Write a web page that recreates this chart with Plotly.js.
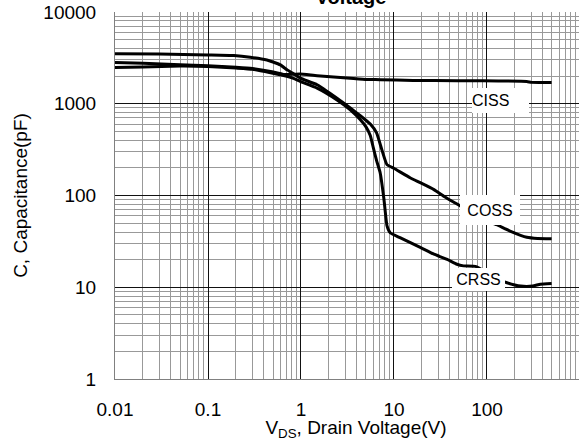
<!DOCTYPE html>
<html><head><meta charset="utf-8">
<script src="https://cdn.plot.ly/plotly-3.0.1.min.js"></script>
<style>html,body{margin:0;padding:0;overflow:hidden;background:#fff}#chart{width:597px;height:441px}</style>
</head><body><div id="chart"></div>
<script>
// Drain voltage (V) and capacitance (pF)
const cissV = [0.01, 0.02, 0.05, 0.1, 0.2, 0.3, 0.47, 0.65, 0.83, 0.98, 1.49, 2.44, 3.39, 5.1, 7.1, 16, 27, 85, 268, 300, 495];
const cissC = [2810, 2760, 2660, 2600, 2500, 2420, 2250, 2090, 2100, 2110, 2020, 1950, 1900, 1840, 1830, 1790, 1790, 1780, 1750, 1710, 1705];

const cossV = [0.01, 0.03, 0.1, 0.19, 0.285, 0.43, 0.5, 0.6, 0.71, 0.83, 0.98, 1.49, 2.44, 3.39, 4.35, 5.56, 6.5, 7.4, 8.4, 9.95, 14.9, 19.4, 26.9, 35, 43.6, 51.6, 70, 100, 127, 177, 268, 350, 495];
const cossC = [3500, 3480, 3400, 3350, 3215, 3000, 2850, 2650, 2340, 2120, 1900, 1610, 1150, 900, 740, 600, 481, 316, 217, 198, 156, 137, 116, 97, 85, 77, 63, 53, 48, 41, 35, 34, 33.8];

const crssV = [0.01, 0.02, 0.05, 0.1, 0.2, 0.3, 0.47, 0.65, 0.83, 0.98, 1.49, 2.44, 3.39, 4.35, 5.0, 5.56, 6.0, 6.5, 7.1, 7.8, 8.4, 9.1, 11.6, 19.4, 26.9, 37.3, 47.5, 56, 75, 100, 130, 164, 230, 310, 375, 495];
const crssC = [2490, 2510, 2580, 2550, 2450, 2380, 2180, 2030, 1890, 1750, 1480, 1100, 860, 670, 560, 450, 330, 240, 177, 91, 47, 39.3, 34.7, 27, 22.9, 20.1, 17.8, 17.1, 16.9, 14.5, 12.3, 11.2, 10.3, 10.3, 10.8, 11];

const xTickVals = [0.01, 0.1, 1, 10, 100];
const xTickText = ['0.01', '0.1', '1', '10', '100'];
const yTickVals = [1, 10, 100, 1000, 10000];
const yTickText = ['1', '10', '100', '1000', '10000'];

const seriesNames = ['CISS', 'COSS', 'CRSS'];
// label positions (log10 units, as Plotly expects for log axes)
const labelX = [2.146, 2.036, 1.910];
const labelY = [3.034, 1.846, 1.086];
const labelW = [57, 60, 53];
const labelH = [25, 30, 23];
const labelAlign = ['left', 'center', 'center'];

const FONT = 'Liberation Sans, Arial, sans-serif';
const lineStyle = {color: '#000', width: 3, shape: 'spline', smoothing: 0.4};

const traces = [
  {x: cissV, y: cissC, name: seriesNames[0], mode: 'lines', line: lineStyle},
  {x: cossV, y: cossC, name: seriesNames[1], mode: 'lines', line: lineStyle},
  {x: crssV, y: crssC, name: seriesNames[2], mode: 'lines', line: lineStyle}
];

const annotations = seriesNames.map((n, i) => ({
  text: n, xref: 'x', yref: 'y', x: labelX[i], y: labelY[i],
  xanchor: 'center', yanchor: 'middle', showarrow: false,
  bgcolor: '#fff', borderpad: 0, borderwidth: 0,
  width: labelW[i], height: labelH[i], align: labelAlign[i],
  font: {family: FONT, size: 16, color: '#000'}
}));

const axisCommon = {
  type: 'log', showgrid: true, gridcolor: '#111', gridwidth: 1,
  minor: {dtick: 'D1', showgrid: true, gridcolor: '#999', gridwidth: 1, ticks: ''},
  showline: true, linecolor: '#808080', linewidth: 1, zeroline: false,
  ticks: '', tickmode: 'array', automargin: false,
  tickfont: {family: FONT, size: 19, color: '#000'}
};

const layout = {
  width: 597, height: 441,
  margin: {l: 115, r: 0, t: 12, b: 62},
  paper_bgcolor: '#fff', plot_bgcolor: '#fff',
  showlegend: false,
  font: {family: FONT, color: '#000'},
  title: {text: 'Voltage', font: {family: FONT, size: 20, weight: 'bold', color: '#000'},
          xref: 'container', x: 351 / 597, xanchor: 'center',
          yref: 'container', y: 1 - 4 / 441, yanchor: 'bottom'},
  xaxis: Object.assign({}, axisCommon, {
    range: [-2, 3.183], tickvals: xTickVals, ticktext: xTickText,
    ticklabelstandoff: 13,
    title: {text: 'V<sub>DS</sub>, Drain Voltage(V)', font: {family: FONT, size: 19, color: '#000'}, standoff: 0}
  }),
  yaxis: Object.assign({}, axisCommon, {
    range: [0, 4], tickvals: yTickVals, ticktext: yTickText,
    ticklabelstandoff: 14,
    title: {text: 'C, Capacitance(pF)', font: {family: FONT, size: 19, color: '#000'}, standoff: 10}
  }),
  annotations: annotations
};

Plotly.newPlot('chart', traces, layout, {staticPlot: true, displayModeBar: false});
</script>
</body></html>
